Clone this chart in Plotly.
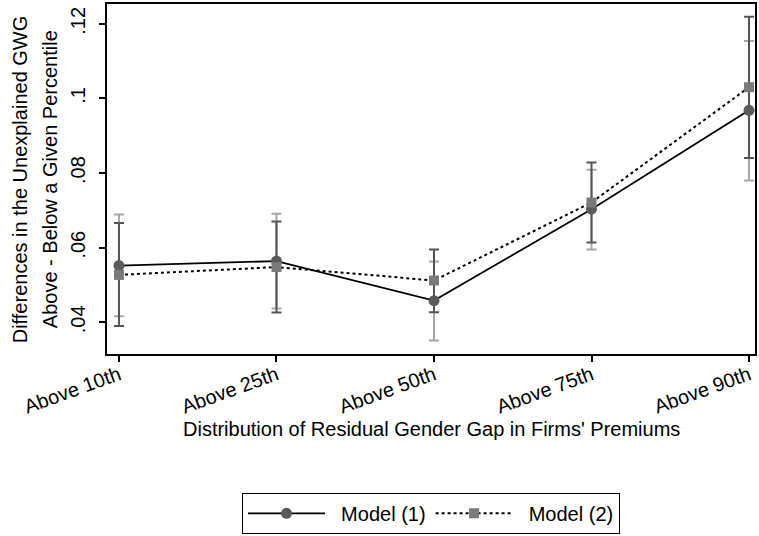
import plotly.graph_objects as go

categories = ["Above 10th", "Above 25th", "Above 50th", "Above 75th", "Above 90th"]
xpos = [0, 1, 2, 3, 4]

# Model (1): point estimates and confidence bounds
m1 = [0.0552, 0.0564, 0.0458, 0.0703, 0.0968]
m1_lo = [0.0416, 0.0437, 0.0351, 0.0595, 0.0780]
m1_hi = [0.0689, 0.0691, 0.0563, 0.0809, 0.1154]

# Model (2): point estimates and confidence bounds
m2 = [0.0527, 0.0548, 0.0512, 0.0721, 0.1030]
m2_lo = [0.0390, 0.0426, 0.0427, 0.0614, 0.0840]
m2_hi = [0.0666, 0.0670, 0.0595, 0.0828, 0.1219]

ytick_vals = [0.04, 0.06, 0.08, 0.10, 0.12]
ytick_text = [".04", ".06", ".08", ".1", ".12"]

FONT = "Liberation Sans, Arial, Helvetica, sans-serif"
FS = 20


def err(v, lo, hi, color):
    return dict(type="data", symmetric=False,
                array=[h - m for h, m in zip(hi, v)],
                arrayminus=[m - l for m, l in zip(v, lo)],
                color=color, thickness=2, width=5)


fig = go.Figure()
fig.add_trace(go.Scatter(x=xpos, y=m1, mode="markers", showlegend=False, hoverinfo="skip",
                         marker=dict(size=1, color="rgba(0,0,0,0)"),
                         error_y=err(m1, m1_lo, m1_hi, "#a8a8a8")))
fig.add_trace(go.Scatter(x=xpos, y=m2, mode="markers", showlegend=False, hoverinfo="skip",
                         marker=dict(size=1, color="rgba(0,0,0,0)"),
                         error_y=err(m2, m2_lo, m2_hi, "#555555")))
fig.add_trace(go.Scatter(x=xpos, y=m1, mode="lines+markers", name="\u00a0\u00a0Model (1)",
                         line=dict(color="black", width=1.8),
                         marker=dict(symbol="circle", size=11, color="#5a5a5a")))
fig.add_trace(go.Scatter(x=xpos, y=m2, mode="lines+markers", name="\u00a0\u00a0Model (2)",
                         line=dict(color="black", width=2, dash="dot"),
                         marker=dict(symbol="square", size=10, color="#7a7a7a")))

W, H = 759, 536
L, R, T, B = 107, 2, 3, 180
pw = W - L - R
ph = H - T - B

def px_x(px):
    return (px - L) / pw

def px_y(py):
    return (H - B - py) / ph

fig.update_layout(
    width=W, height=H,
    margin=dict(l=L, r=R, t=T, b=B),
    paper_bgcolor="white", plot_bgcolor="white",
    font=dict(family=FONT, size=FS, color="black"),
    xaxis=dict(range=[-0.076, 4.038], tickvals=xpos, ticktext=categories,
               tickangle=-20, ticks="outside", ticklen=6, tickwidth=1.5, tickcolor="black",
               showline=True, linecolor="black", linewidth=1.5, mirror=True,
               showgrid=False, zeroline=False, tickfont=dict(size=FS),
               ticklabelstandoff=-6),
    yaxis=dict(range=[0.0315, 0.1253], tickvals=ytick_vals, ticktext=ytick_text,
               tickangle=-90, ticks="outside", ticklen=6, tickwidth=1.5, tickcolor="black",
               showline=True, linecolor="black", linewidth=1.5, mirror=True,
               showgrid=False, zeroline=False, tickfont=dict(size=FS),
               ticklabelstandoff=6),
    legend=dict(orientation="h", x=0.5, xanchor="center", y=px_y(496), yanchor="top",
                bordercolor="black", borderwidth=1, bgcolor="white",
                font=dict(size=FS), itemwidth=77),
    annotations=[
        dict(text="Differences in the Unexplained GWG", xref="paper", yref="paper",
             x=px_x(20), y=0.5, xanchor="center", yanchor="middle", textangle=-90,
             showarrow=False, font=dict(size=FS)),
        dict(text="Above - Below a Given Percentile", xref="paper", yref="paper",
             x=px_x(50), y=0.5, xanchor="center", yanchor="middle", textangle=-90,
             showarrow=False, font=dict(size=FS)),
        dict(text="Distribution of Residual Gender Gap in Firms' Premiums", xref="paper", yref="paper",
             x=0.5, y=px_y(432), xanchor="center", yanchor="middle",
             showarrow=False, font=dict(size=FS)),
    ],
)

fig.write_html("out.html")
